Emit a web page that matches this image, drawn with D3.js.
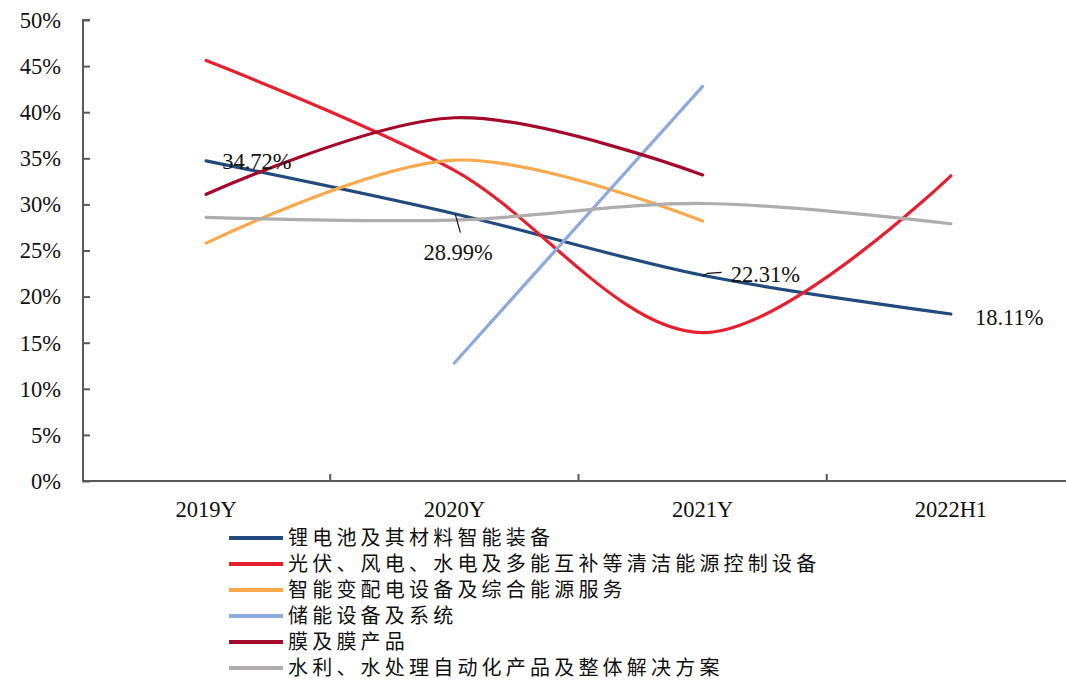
<!DOCTYPE html>
<html>
<head>
<meta charset="utf-8">
<script src="https://cdn.jsdelivr.net/npm/d3@7"></script>
<style>
  html, body { margin: 0; padding: 0; background: #fff; }
  svg { display: block; }
</style>
</head>
<body>
<svg id="chart" width="1066" height="680"></svg>
<script>
// Categories and gross-margin series (fractions); null = no value for that period
const categories = ["2019Y", "2020Y", "2021Y", "2022H1"];
const seriesNames = [
  "锂电池及其材料智能装备",
  "光伏、风电、水电及多能互补等清洁能源控制设备",
  "智能变配电设备及综合能源服务",
  "储能设备及系统",
  "膜及膜产品",
  "水利、水处理自动化产品及整体解决方案"
];
const lithium   = [0.3472, 0.2899, 0.2231, 0.1811];
const cleanEnergy = [0.456, 0.337, 0.161, 0.331];
const substation = [0.258, 0.348, 0.282, null];
const storage   = [null, 0.128, 0.428, null];
const membrane  = [0.311, 0.394, 0.332, null];
const water     = [0.286, 0.283, 0.301, 0.279];
const seriesValues = [lithium, cleanEnergy, substation, storage, membrane, water];
const seriesColors = ["#214a7e", "#e5202f", "#f9a84b", "#8eaadc", "#a3092a", "#aeacac"];
const yTicks = [0, 0.05, 0.1, 0.15, 0.2, 0.25, 0.3, 0.35, 0.4, 0.45, 0.5];
// Value labels shown on the first series
const labelledPoints = [
  { series: 0, index: 0, dx: 16, dy: 0, anchor: "start", leader: false },
  { series: 0, index: 1, dx: -31, dy: 38, anchor: "start", leader: true },
  { series: 0, index: 2, dx: 28, dy: -1, anchor: "start", leader: true },
  { series: 0, index: 3, dx: 24, dy: 3, anchor: "start", leader: false }
];

const svg = d3.select("#chart");
const serif = "'Liberation Serif', 'Times New Roman', serif";
// Latin face first keeps the line box compact; Chinese glyphs come from the CJK face
const legendFont = "'Liberation Serif', 'Noto Sans CJK SC', sans-serif";
const axisColor = "#595959";

const x = d3.scaleBand().domain(categories).range([82, 1075]).padding(0);
const xc = c => x(c) + x.bandwidth() / 2;
const y = d3.scaleLinear().domain([0, 0.5]).range([481, 20]);

// Y axis: ticks point inward
const yAxis = svg.append("g")
  .attr("transform", "translate(83,0)")
  .call(d3.axisRight(y).tickValues(yTicks).tickSize(7).tickFormat(() => ""));
yAxis.select(".domain").attr("stroke", axisColor).attr("stroke-width", 2)
  .attr("d", `M7,${y(0.5)}H0V${y(0)}`);
yAxis.selectAll(".tick line").attr("stroke", axisColor).attr("stroke-width", 2);

svg.append("g").selectAll("text").data(yTicks).join("text")
  .attr("x", 61).attr("y", d => y(d)).attr("dy", "0.35em")
  .attr("text-anchor", "end")
  .style("font-family", serif).style("font-size", "22.5px").attr("fill", "#111")
  .text(d => d3.format(".0%")(d));

// X axis with ticks between categories pointing up
svg.append("line").attr("x1", 82).attr("x2", 1075).attr("y1", y(0)).attr("y2", y(0))
  .attr("stroke", axisColor).attr("stroke-width", 2);
svg.append("g").selectAll("line").data(categories.slice(1)).join("line")
  .attr("x1", d => x(d)).attr("x2", d => x(d))
  .attr("y1", y(0)).attr("y2", y(0) - 7)
  .attr("stroke", axisColor).attr("stroke-width", 2);
svg.append("g").selectAll("text").data(categories).join("text")
  .attr("x", d => xc(d)).attr("y", 517)
  .attr("text-anchor", "middle")
  .style("font-family", serif).style("font-size", "22.5px").attr("fill", "#111")
  .text(d => d);

// Smoothed series lines
const line = d3.line()
  .defined(d => d.v != null)
  .x(d => xc(d.c))
  .y(d => y(d.v))
  .curve(d3.curveCardinal.tension(0));

const lines = svg.append("g");
seriesValues.forEach((vals, i) => {
  const pts = categories.map((c, j) => ({ c, v: vals[j] })).filter(d => d.v != null);
  lines.append("path")
    .datum(pts)
    .attr("d", line)
    .attr("fill", "none")
    .attr("stroke", seriesColors[i])
    .attr("stroke-width", 3.2)
    .attr("stroke-linecap", "round");
});

// Data labels
const labels = svg.append("g");
labelledPoints.forEach(p => {
  const v = seriesValues[p.series][p.index];
  const px = xc(categories[p.index]);
  const py = y(v);
  const tx = px + p.dx, ty = py + p.dy;
  if (p.leader) {
    if (p.dy > 10) {
      labels.append("line").attr("x1", px + 1).attr("y1", py + 1)
        .attr("x2", px + 6).attr("y2", py + 19)
        .attr("stroke", "#111").attr("stroke-width", 1.2);
    } else {
      labels.append("polyline")
        .attr("points", `${px},${py + 1} ${px + 5},${py - 2} ${px + 19},${py - 3}`)
        .attr("fill", "none").attr("stroke", "#111").attr("stroke-width", 1.2);
    }
  }
  labels.append("text")
    .attr("x", tx).attr("y", ty).attr("dy", "0.35em")
    .attr("text-anchor", p.anchor)
    .style("font-family", serif).style("font-size", "22.5px").attr("fill", "#111")
    .text(d3.format(".2%")(v));
});

// Legend
const legend = svg.append("g");
seriesNames.forEach((name, i) => {
  const ly = 538 + i * 26;
  legend.append("line").attr("x1", 229).attr("x2", 283).attr("y1", ly).attr("y2", ly)
    .attr("stroke", seriesColors[i]).attr("stroke-width", 4);
  legend.append("text").attr("x", 288).attr("y", ly).attr("dy", "0.36em")
    .style("font-family", legendFont).style("font-size", "20px")
    .style("letter-spacing", "4.2px").attr("fill", "#111")
    .text(name);
});
</script>
</body>
</html>
